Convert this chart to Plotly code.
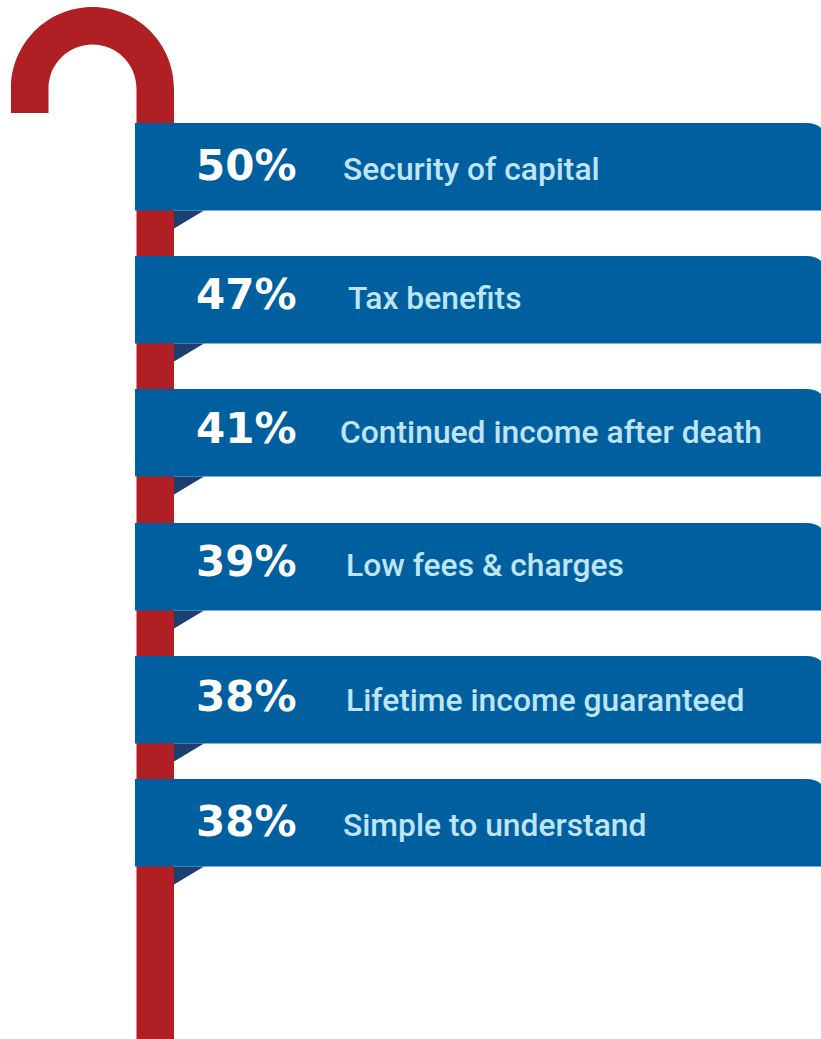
import plotly.graph_objects as go

# Survey results, top to bottom
percentages = [50, 47, 41, 39, 38, 38]
features = [
    "Security of capital",
    "Tax benefits",
    "Continued income after death",
    "Low fees &amp; charges",
    "Lifetime income guaranteed",
    "Simple to understand",
]

# Layout in page pixels
WIDTH, HEIGHT = 821, 1039
ribbon_tops = [123, 256, 389, 523, 656, 779]
text_offsets = [42, 38, 39, 38, 40, 42]
label_lefts = [341, 346, 338, 344, 344, 341]
RIBBON_H = 87.5
RIBBON_L = 135
PCT_X = 194

RED = "#B01F24"
BLUE = "#00609F"
NAVY = "#1B3F73"
PALE = "#BFE4F6"

fig = go.Figure()
# Invisible trace keeps the cartesian axes alive for the shapes and annotations
fig.add_trace(go.Scatter(x=[0, WIDTH], y=[0, HEIGHT], mode="markers",
                         marker=dict(opacity=0), hoverinfo="skip", showlegend=False))

# Walking-stick handle and shaft
cx, cy, ro, ri = 92.5, 88.5, 81.5, 44
k = 0.5523
stick = (
    f"M {cx-ro},113 L {cx-ro},{cy} "
    f"C {cx-ro},{cy-k*ro} {cx-k*ro},{cy-ro} {cx},{cy-ro} "
    f"C {cx+k*ro},{cy-ro} {cx+ro},{cy-k*ro} {cx+ro},{cy} "
    f"L {cx+ro},{HEIGHT} L {cx+ri},{HEIGHT} L {cx+ri},{cy} "
    f"C {cx+ri},{cy-k*ri} {cx+k*ri},{cy-ri} {cx},{cy-ri} "
    f"C {cx-k*ri},{cy-ri} {cx-ri},{cy-k*ri} {cx-ri},{cy} "
    f"L {cx-ri},113 Z"
)
shapes = [dict(type="path", path=stick, fillcolor=RED, line_width=0, layer="below")]
annotations = []

for top, offset, left, pct, feature in zip(ribbon_tops, text_offsets, label_lefts,
                                           percentages, features):
    bottom = top + RIBBON_H
    # Fold under the ribbon
    shapes.append(dict(type="path",
                       path=f"M 174,{bottom} L 204,{bottom} L 174,{bottom+18} Z",
                       fillcolor=NAVY, line_width=0))
    # Ribbon with a rounded upper-right corner
    shapes.append(dict(type="path",
                       path=(f"M {RIBBON_L},{top} L 806,{top} Q 816,{top} {WIDTH},{top+5} "
                             f"L {WIDTH},{bottom} L {RIBBON_L},{bottom} Z"),
                       fillcolor=BLUE, line_width=0))
    annotations.append(dict(x=PCT_X, y=top + offset, text=f"<b>{pct}%</b>", showarrow=False,
                            xanchor="left", yanchor="middle",
                            font=dict(family="DejaVu Sans", size=42, color="white")))
    annotations.append(dict(x=left, y=top + offset + 4, text=feature, showarrow=False,
                            xanchor="left", yanchor="middle",
                            font=dict(family="Roboto", size=31.8, weight=500, color=PALE)))

fig.update_layout(
    width=WIDTH, height=HEIGHT,
    margin=dict(l=0, r=0, t=0, b=0),
    paper_bgcolor="white", plot_bgcolor="white",
    xaxis=dict(range=[0, WIDTH], visible=False, fixedrange=True),
    yaxis=dict(range=[HEIGHT, 0], visible=False, fixedrange=True),
    shapes=shapes, annotations=annotations, showlegend=False,
)
fig.write_html("out.html", config={"displayModeBar": False})
